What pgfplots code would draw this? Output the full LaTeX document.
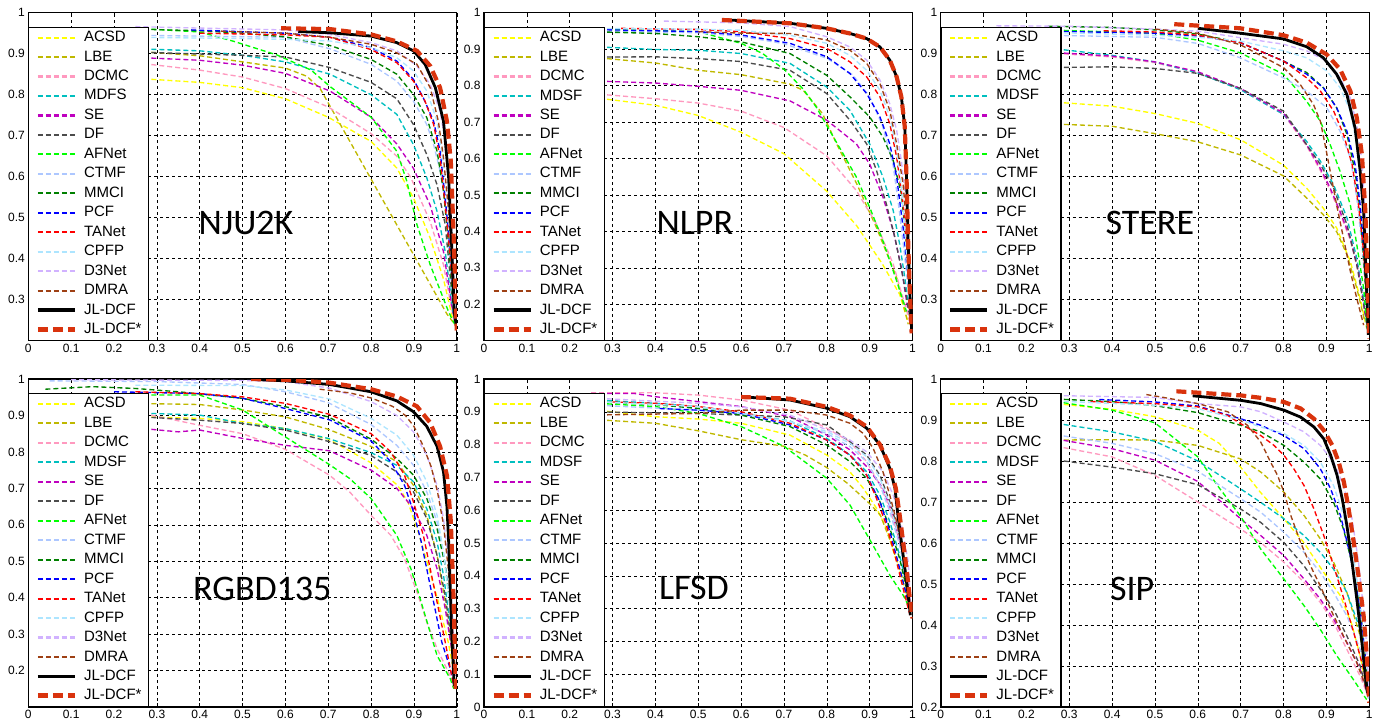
\documentclass[border=0pt]{standalone}
\usepackage{pgfplots}
\pgfplotsset{compat=1.18}
\usepackage{fontspec}
\setmainfont{Liberation Sans}
\newfontfamily\calibri{Carlito}
\definecolor{cACSD}{rgb}{1,1,0}
\definecolor{cLBE}{rgb}{0.75,0.72,0}
\definecolor{cDCMC}{rgb}{1,0.6,0.75}
\definecolor{cMDSF}{rgb}{0,0.75,0.75}
\definecolor{cSE}{rgb}{0.75,0,0.75}
\definecolor{cDF}{rgb}{0.3,0.3,0.3}
\definecolor{cAFNet}{rgb}{0,1,0}
\definecolor{cCTMF}{rgb}{0.68,0.78,1}
\definecolor{cMMCI}{rgb}{0,0.5,0}
\definecolor{cPCF}{rgb}{0,0,1}
\definecolor{cTANet}{rgb}{1,0,0}
\definecolor{cCPFP}{rgb}{0.68,0.9,1}
\definecolor{cD3Net}{rgb}{0.82,0.7,1}
\definecolor{cDMRA}{rgb}{0.62,0.25,0.08}
\definecolor{cJLs}{rgb}{0.85,0.2,0.05}
\tikzset{
  dsh/.style={line width=1.35pt, dash pattern=on 5pt off 3pt},
  sACSD/.style={dsh, draw=cACSD},
  sLBE/.style={dsh, draw=cLBE},
  sDCMC/.style={dsh, draw=cDCMC},
  sMDSF/.style={dsh, draw=cMDSF},
  sSE/.style={dsh, draw=cSE},
  sDF/.style={dsh, draw=cDF},
  sAFNet/.style={dsh, draw=cAFNet},
  sCTMF/.style={dsh, draw=cCTMF},
  sMMCI/.style={dsh, draw=cMMCI},
  sPCF/.style={dsh, draw=cPCF},
  sTANet/.style={dsh, draw=cTANet},
  sCPFP/.style={dsh, draw=cCPFP},
  sD3Net/.style={dsh, draw=cD3Net},
  sDMRA/.style={dsh, draw=cDMRA},
  sJL/.style={draw=black, line width=2.8pt, solid},
  sJLs/.style={draw=cJLs, line width=4.2pt, dash pattern=on 10pt off 5pt},
  bigl/.style={font=\calibri\fontsize{36}{36}\selectfont, inner sep=0pt, anchor=center},
}
\pgfplotsset{
  panel/.style={
    scale only axis, width=428.5pt, height=328pt,
    xmin=0, xmax=1, ymax=1,
    xtick={0,0.1,0.2,0.3,0.4,0.5,0.6,0.7,0.8,0.9,1},
    grid=major, grid style={black, line width=0.55pt, dash pattern=on 3pt off 3pt},
    axis line style={black, line width=1.2pt},
    tick style={black, line width=0.6pt}, major tick length=4pt, tick align=inside,
    /pgf/number format/assume math mode=true,
    ticklabel style={font=\fontsize{12}{12}\selectfont},
    legend cell align=left,
    legend style={at={(0,0)}, anchor=south west, draw=black, line width=1.1pt, fill=white,
      inner xsep=7pt, inner ysep=3.5pt, font=\fontsize{15}{15}\selectfont,
      row sep=5.47pt, nodes={inner sep=0pt, text height=11pt, text depth=3pt},
      /tikz/every odd column/.append style={column sep=7pt}},
    legend image code/.code={\draw[##1] (0pt,-0.4pt) -- (37pt,-0.4pt);\draw[##1] (0pt,0.4pt) -- (37pt,0.4pt);},
  },
}
\begin{document}
\begin{tikzpicture}
\path[use as bounding box] (0,0) rectangle (1380pt,721pt);
% ---------------- NJU2K
\begin{axis}[panel, at={(28.3pt,708.3pt)}, anchor=north west, ymin=0.2, ytick={0.3,0.4,0.5,0.6,0.7,0.8,0.9,1}]
\addplot[sACSD] coordinates {(0.25,0.84)(0.4,0.83)(0.5,0.817)(0.6,0.79)(0.7,0.745)(0.8,0.686)(0.86,0.621)(0.899,0.548)(0.938,0.45)(0.969,0.35)(0.992,0.246)};
\addplot[sLBE] coordinates {(0.25,0.906)(0.4,0.895)(0.5,0.88)(0.6,0.865)(0.65,0.845)(0.681,0.815)(0.8,0.594)(0.9,0.408)(0.977,0.265)(0.995,0.24)};
\addplot[sDCMC] coordinates {(0.25,0.878)(0.4,0.86)(0.5,0.843)(0.6,0.815)(0.7,0.77)(0.8,0.705)(0.86,0.65)(0.893,0.597)(0.938,0.49)(0.969,0.385)(0.993,0.25)};
\addplot[sMDSF] coordinates {(0.25,0.912)(0.4,0.907)(0.5,0.896)(0.6,0.88)(0.704,0.85)(0.8,0.8)(0.86,0.752)(0.899,0.678)(0.93,0.597)(0.954,0.515)(0.973,0.417)(0.991,0.27)(0.997,0.24)};
\addplot[sSE] coordinates {(0.25,0.891)(0.4,0.884)(0.5,0.872)(0.6,0.852)(0.704,0.809)(0.8,0.745)(0.86,0.68)(0.899,0.62)(0.938,0.53)(0.969,0.417)(0.988,0.287)(0.997,0.24)};
\addplot[sDF] coordinates {(0.25,0.904)(0.5,0.896)(0.6,0.892)(0.704,0.866)(0.8,0.83)(0.86,0.79)(0.899,0.727)(0.93,0.654)(0.954,0.58)(0.973,0.483)(0.991,0.287)(0.997,0.24)};
\addplot[sAFNet] coordinates {(0.25,0.962)(0.4,0.953)(0.48,0.93)(0.58,0.897)(0.66,0.86)(0.704,0.82)(0.8,0.745)(0.86,0.662)(0.883,0.59)(0.907,0.483)(0.938,0.385)(0.981,0.27)(0.995,0.24)};
\addplot[sCTMF] coordinates {(0.25,0.945)(0.6,0.94)(0.704,0.912)(0.8,0.874)(0.86,0.833)(0.899,0.784)(0.93,0.727)(0.946,0.678)(0.965,0.597)(0.977,0.5)(0.99,0.3)(0.997,0.24)};
\addplot[sMMCI] coordinates {(0.25,0.96)(0.4,0.956)(0.5,0.95)(0.6,0.941)(0.704,0.92)(0.8,0.886)(0.86,0.85)(0.899,0.8)(0.93,0.744)(0.954,0.662)(0.969,0.564)(0.981,0.434)(0.993,0.27)(0.997,0.24)};
\addplot[sPCF] coordinates {(0.38,0.958)(0.6,0.95)(0.704,0.94)(0.8,0.915)(0.86,0.882)(0.899,0.837)(0.922,0.792)(0.946,0.735)(0.961,0.662)(0.973,0.548)(0.985,0.417)(0.995,0.27)};
\addplot[sTANet] coordinates {(0.4,0.95)(0.6,0.946)(0.704,0.94)(0.8,0.91)(0.86,0.878)(0.899,0.833)(0.926,0.784)(0.946,0.727)(0.961,0.646)(0.973,0.53)(0.985,0.4)(0.995,0.27)};
\addplot[sCPFP] coordinates {(0.25,0.94)(0.5,0.937)(0.6,0.935)(0.704,0.931)(0.8,0.915)(0.86,0.89)(0.899,0.858)(0.93,0.809)(0.954,0.735)(0.969,0.63)(0.981,0.515)(0.99,0.35)(0.997,0.25)};
\addplot[sD3Net] coordinates {(0.25,0.966)(0.6,0.958)(0.704,0.947)(0.8,0.927)(0.86,0.907)(0.907,0.87)(0.938,0.825)(0.961,0.76)(0.977,0.662)(0.986,0.515)(0.993,0.35)(0.998,0.25)};
\addplot[sDMRA] coordinates {(0.45,0.955)(0.6,0.95)(0.704,0.94)(0.8,0.923)(0.86,0.902)(0.907,0.874)(0.938,0.817)(0.957,0.735)(0.969,0.646)(0.981,0.515)(0.99,0.35)(0.997,0.25)};
\addplot[sJL] coordinates {(0.63,0.954)(0.704,0.951)(0.8,0.943)(0.86,0.927)(0.899,0.907)(0.926,0.874)(0.95,0.817)(0.969,0.735)(0.981,0.597)(0.988,0.434)(0.994,0.27)(1.0,0.23)};
\addplot[sJLs] coordinates {(0.59,0.962)(0.704,0.96)(0.8,0.947)(0.86,0.93)(0.907,0.907)(0.938,0.87)(0.961,0.817)(0.977,0.735)(0.986,0.638)(0.992,0.475)(0.998,0.27)(1.0,0.225)};
\node[bigl] at (axis cs:0.508,0.488) {NJU2K};
\legend{ACSD,LBE,DCMC,MDFS,SE,DF,AFNet,CTMF,MMCI,PCF,TANet,CPFP,D3Net,DMRA,JL-DCF,JL-DCF*}
\end{axis}
% ---------------- NLPR
\begin{axis}[panel, at={(484pt,708.3pt)}, anchor=north west, ymin=0.1, ytick={0.2,0.3,0.4,0.5,0.6,0.7,0.8,0.9,1}]
\addplot[sACSD] coordinates {(0.25,0.768)(0.4,0.746)(0.5,0.718)(0.6,0.672)(0.7,0.613)(0.8,0.51)(0.87,0.415)(0.93,0.31)(0.97,0.227)(0.99,0.15)};
\addplot[sLBE] coordinates {(0.25,0.878)(0.4,0.862)(0.5,0.842)(0.6,0.83)(0.714,0.804)(0.745,0.787)(0.79,0.723)(0.823,0.64)(0.87,0.53)(0.916,0.41)(0.963,0.273)(0.99,0.145)};
\addplot[sDCMC] coordinates {(0.25,0.778)(0.4,0.764)(0.5,0.752)(0.6,0.73)(0.7,0.685)(0.8,0.607)(0.869,0.512)(0.916,0.42)(0.955,0.31)(0.982,0.2)(0.994,0.15)};
\addplot[sMDSF] coordinates {(0.25,0.907)(0.4,0.899)(0.5,0.897)(0.6,0.888)(0.714,0.861)(0.8,0.796)(0.854,0.732)(0.9,0.64)(0.931,0.549)(0.955,0.457)(0.97,0.365)(0.982,0.273)(0.992,0.18)};
\addplot[sSE] coordinates {(0.25,0.813)(0.4,0.807)(0.5,0.798)(0.6,0.787)(0.714,0.758)(0.8,0.705)(0.869,0.64)(0.9,0.585)(0.931,0.494)(0.955,0.402)(0.974,0.3)(0.99,0.18)};
\addplot[sDF] coordinates {(0.25,0.878)(0.4,0.879)(0.5,0.874)(0.6,0.866)(0.714,0.842)(0.8,0.778)(0.854,0.705)(0.893,0.64)(0.916,0.567)(0.939,0.475)(0.959,0.383)(0.978,0.273)(0.994,0.163)};
\addplot[sAFNet] coordinates {(0.25,0.955)(0.5,0.948)(0.6,0.916)(0.65,0.888)(0.7,0.845)(0.745,0.79)(0.776,0.74)(0.8,0.69)(0.838,0.613)(0.869,0.549)(0.9,0.466)(0.931,0.374)(0.963,0.264)(0.986,0.18)};
\addplot[sCTMF] coordinates {(0.25,0.95)(0.5,0.945)(0.6,0.935)(0.7,0.915)(0.8,0.875)(0.86,0.83)(0.9,0.77)(0.93,0.69)(0.955,0.58)(0.97,0.45)(0.985,0.3)(0.995,0.17)};
\addplot[sMMCI] coordinates {(0.25,0.948)(0.4,0.943)(0.5,0.934)(0.6,0.92)(0.714,0.888)(0.8,0.828)(0.854,0.769)(0.9,0.714)(0.931,0.659)(0.955,0.594)(0.974,0.503)(0.986,0.365)(0.994,0.227)};
\addplot[sPCF] coordinates {(0.25,0.954)(0.5,0.948)(0.6,0.939)(0.714,0.916)(0.8,0.879)(0.854,0.833)(0.893,0.778)(0.924,0.714)(0.947,0.64)(0.963,0.549)(0.978,0.411)(0.99,0.273)(0.995,0.155)};
\addplot[sTANet] coordinates {(0.32,0.957)(0.5,0.954)(0.6,0.948)(0.714,0.929)(0.8,0.902)(0.854,0.865)(0.893,0.824)(0.924,0.769)(0.947,0.695)(0.963,0.604)(0.978,0.475)(0.99,0.32)(0.996,0.16)};
\addplot[sCPFP] coordinates {(0.25,0.957)(0.5,0.955)(0.6,0.952)(0.714,0.938)(0.8,0.916)(0.854,0.883)(0.893,0.842)(0.924,0.787)(0.947,0.714)(0.963,0.622)(0.974,0.52)(0.982,0.41)(0.995,0.18)};
\addplot[sD3Net] coordinates {(0.42,0.977)(0.6,0.972)(0.714,0.962)(0.8,0.934)(0.854,0.906)(0.893,0.87)(0.924,0.815)(0.947,0.75)(0.963,0.677)(0.974,0.594)(0.986,0.457)(0.996,0.2)};
\addplot[sDMRA] coordinates {(0.5,0.948)(0.6,0.944)(0.714,0.943)(0.8,0.925)(0.854,0.897)(0.893,0.861)(0.924,0.805)(0.947,0.732)(0.963,0.64)(0.978,0.53)(0.986,0.42)(0.996,0.18)};
\addplot[sJL] coordinates {(0.57,0.98)(0.714,0.971)(0.8,0.957)(0.854,0.943)(0.893,0.929)(0.924,0.906)(0.947,0.87)(0.963,0.824)(0.974,0.769)(0.982,0.686)(0.986,0.549)(0.99,0.365)(0.994,0.227)(0.998,0.127)};
\addplot[sJLs] coordinates {(0.555,0.98)(0.714,0.971)(0.8,0.957)(0.854,0.943)(0.893,0.929)(0.924,0.906)(0.947,0.87)(0.963,0.824)(0.974,0.769)(0.982,0.686)(0.986,0.549)(0.99,0.365)(0.994,0.227)(0.998,0.12)};
\node[bigl] at (axis cs:0.492,0.424) {NLPR};
\legend{ACSD,LBE,DCMC,MDSF,SE,DF,AFNet,CTMF,MMCI,PCF,TANet,CPFP,D3Net,DMRA,JL-DCF,JL-DCF*}
\end{axis}
% ---------------- STERE
\begin{axis}[panel, at={(940.7pt,708.3pt)}, anchor=north west, ymin=0.2, ytick={0.3,0.4,0.5,0.6,0.7,0.8,0.9,1}]
\addplot[sACSD] coordinates {(0.25,0.783)(0.4,0.772)(0.5,0.754)(0.6,0.73)(0.7,0.69)(0.8,0.628)(0.854,0.572)(0.893,0.523)(0.924,0.475)(0.956,0.393)(0.979,0.303)(0.994,0.23)};
\addplot[sLBE] coordinates {(0.25,0.729)(0.4,0.723)(0.5,0.705)(0.6,0.685)(0.7,0.653)(0.8,0.602)(0.854,0.548)(0.893,0.507)(0.924,0.466)(0.948,0.41)(0.971,0.328)(0.99,0.246)};
\addplot[sDCMC] coordinates {(0.25,0.902)(0.4,0.892)(0.5,0.878)(0.6,0.853)(0.7,0.813)(0.8,0.752)(0.854,0.675)(0.886,0.615)(0.909,0.567)(0.932,0.51)(0.956,0.445)(0.975,0.365)(0.99,0.27)(0.997,0.23)};
\addplot[sMDSF] coordinates {(0.25,0.914)(0.4,0.896)(0.5,0.88)(0.6,0.853)(0.7,0.812)(0.8,0.752)(0.854,0.686)(0.886,0.638)(0.917,0.58)(0.948,0.5)(0.971,0.401)(0.987,0.303)(0.995,0.23)};
\addplot[sSE] coordinates {(0.25,0.904)(0.4,0.894)(0.5,0.88)(0.6,0.856)(0.7,0.815)(0.8,0.755)(0.854,0.678)(0.886,0.62)(0.909,0.572)(0.932,0.515)(0.956,0.45)(0.975,0.369)(0.99,0.27)(0.997,0.23)};
\addplot[sDF] coordinates {(0.25,0.866)(0.4,0.868)(0.5,0.864)(0.6,0.852)(0.7,0.815)(0.8,0.76)(0.854,0.678)(0.886,0.63)(0.917,0.572)(0.948,0.483)(0.971,0.385)(0.99,0.27)(0.997,0.23)};
\addplot[sAFNet] coordinates {(0.25,0.958)(0.5,0.95)(0.6,0.933)(0.699,0.902)(0.8,0.85)(0.854,0.784)(0.886,0.735)(0.909,0.678)(0.932,0.613)(0.956,0.531)(0.971,0.434)(0.987,0.328)(0.995,0.238)};
\addplot[sCTMF] coordinates {(0.25,0.945)(0.5,0.94)(0.6,0.925)(0.699,0.89)(0.8,0.841)(0.854,0.809)(0.901,0.768)(0.932,0.711)(0.956,0.646)(0.971,0.548)(0.983,0.434)(0.993,0.31)(0.998,0.23)};
\addplot[sMMCI] coordinates {(0.25,0.967)(0.4,0.964)(0.5,0.958)(0.6,0.948)(0.699,0.927)(0.8,0.882)(0.854,0.854)(0.893,0.817)(0.924,0.768)(0.948,0.703)(0.967,0.613)(0.979,0.515)(0.99,0.352)(0.998,0.23)};
\addplot[sPCF] coordinates {(0.25,0.955)(0.5,0.95)(0.6,0.943)(0.699,0.927)(0.8,0.882)(0.854,0.85)(0.893,0.817)(0.924,0.768)(0.948,0.711)(0.967,0.63)(0.979,0.531)(0.988,0.417)(0.994,0.31)(0.998,0.23)};
\addplot[sTANet] coordinates {(0.38,0.956)(0.5,0.953)(0.6,0.945)(0.699,0.927)(0.8,0.882)(0.854,0.841)(0.886,0.809)(0.917,0.76)(0.94,0.703)(0.96,0.63)(0.975,0.531)(0.987,0.417)(0.994,0.3)(0.998,0.23)};
\addplot[sCPFP] coordinates {(0.25,0.952)(0.5,0.945)(0.6,0.94)(0.699,0.931)(0.8,0.907)(0.854,0.89)(0.901,0.858)(0.932,0.817)(0.956,0.76)(0.971,0.678)(0.983,0.556)(0.993,0.393)(0.998,0.25)};
\addplot[sD3Net] coordinates {(0.13,0.968)(0.3,0.967)(0.5,0.96)(0.6,0.955)(0.699,0.939)(0.8,0.923)(0.854,0.907)(0.901,0.882)(0.932,0.841)(0.956,0.792)(0.971,0.727)(0.983,0.638)(0.99,0.515)(0.996,0.352)(0.999,0.25)};
\addplot[sDMRA] coordinates {(0.5,0.96)(0.6,0.95)(0.699,0.922)(0.8,0.866)(0.839,0.825)(0.87,0.776)(0.886,0.735)(0.897,0.678)(0.909,0.613)(0.924,0.531)(0.94,0.45)(0.956,0.369)(0.971,0.303)(0.987,0.238)};
\addplot[sJL] coordinates {(0.6,0.962)(0.699,0.95)(0.8,0.936)(0.854,0.917)(0.893,0.89)(0.924,0.85)(0.948,0.8)(0.967,0.719)(0.979,0.613)(0.987,0.515)(0.993,0.352)(0.998,0.214)};
\addplot[sJLs] coordinates {(0.545,0.972)(0.699,0.962)(0.8,0.945)(0.854,0.927)(0.901,0.898)(0.932,0.862)(0.956,0.809)(0.971,0.744)(0.983,0.654)(0.991,0.515)(0.996,0.352)(1.0,0.205)};
\node[bigl] at (axis cs:0.488,0.488) {STERE};
\legend{ACSD,LBE,DCMC,MDSF,SE,DF,AFNet,CTMF,MMCI,PCF,TANet,CPFP,D3Net,DMRA,JL-DCF,JL-DCF*}
\end{axis}
% ---------------- RGBD135
\begin{axis}[panel, at={(28.3pt,342pt)}, anchor=north west, ymin=0.1, ytick={0.2,0.3,0.4,0.5,0.6,0.7,0.8,0.9,1}]
\addplot[sACSD] coordinates {(0.25,0.897)(0.4,0.892)(0.5,0.883)(0.6,0.864)(0.7,0.835)(0.8,0.77)(0.862,0.708)(0.886,0.662)(0.91,0.58)(0.933,0.488)(0.957,0.388)(0.98,0.278)(0.995,0.186)};
\addplot[sLBE] coordinates {(0.25,0.933)(0.4,0.93)(0.5,0.915)(0.6,0.896)(0.7,0.862)(0.8,0.815)(0.86,0.773)(0.899,0.708)(0.93,0.626)(0.954,0.516)(0.973,0.388)(0.988,0.26)(0.996,0.186)};
\addplot[sDCMC] coordinates {(0.25,0.91)(0.4,0.873)(0.5,0.85)(0.6,0.807)(0.703,0.736)(0.75,0.69)(0.8,0.626)(0.846,0.571)(0.878,0.507)(0.91,0.406)(0.93,0.333)(0.954,0.26)(0.977,0.204)(0.995,0.16)};
\addplot[sMDSF] coordinates {(0.25,0.907)(0.4,0.901)(0.5,0.878)(0.6,0.864)(0.7,0.837)(0.8,0.798)(0.86,0.763)(0.899,0.718)(0.93,0.644)(0.954,0.553)(0.969,0.461)(0.985,0.324)(0.996,0.204)};
\addplot[sSE] coordinates {(0.25,0.866)(0.35,0.855)(0.4,0.86)(0.5,0.837)(0.6,0.818)(0.703,0.803)(0.8,0.75)(0.86,0.7)(0.899,0.644)(0.93,0.571)(0.954,0.479)(0.973,0.37)(0.988,0.26)(0.996,0.186)};
\addplot[sDF] coordinates {(0.25,0.897)(0.4,0.887)(0.5,0.878)(0.6,0.86)(0.703,0.828)(0.8,0.79)(0.86,0.745)(0.899,0.69)(0.93,0.617)(0.954,0.516)(0.973,0.406)(0.988,0.278)(0.996,0.186)};
\addplot[sAFNet] coordinates {(0.25,0.956)(0.4,0.956)(0.5,0.915)(0.6,0.841)(0.703,0.765)(0.75,0.727)(0.8,0.672)(0.86,0.571)(0.893,0.479)(0.91,0.415)(0.933,0.324)(0.954,0.241)(0.985,0.177)(0.993,0.15)};
\addplot[sCTMF] coordinates {(0.05,0.995)(0.3,0.993)(0.5,0.985)(0.6,0.965)(0.7,0.935)(0.8,0.875)(0.86,0.818)(0.899,0.763)(0.93,0.69)(0.954,0.608)(0.973,0.498)(0.985,0.37)(0.996,0.232)};
\addplot[sMMCI] coordinates {(0.04,0.972)(0.15,0.979)(0.25,0.974)(0.35,0.965)(0.5,0.947)(0.6,0.924)(0.7,0.896)(0.8,0.835)(0.86,0.782)(0.899,0.736)(0.93,0.672)(0.954,0.589)(0.973,0.488)(0.985,0.37)(0.996,0.232)};
\addplot[sPCF] coordinates {(0.2,0.965)(0.4,0.96)(0.5,0.947)(0.6,0.919)(0.703,0.888)(0.8,0.83)(0.846,0.773)(0.878,0.708)(0.899,0.635)(0.917,0.553)(0.933,0.461)(0.949,0.37)(0.965,0.278)(0.985,0.204)(0.993,0.16)};
\addplot[sTANet] coordinates {(0.25,0.965)(0.4,0.96)(0.5,0.951)(0.6,0.933)(0.703,0.903)(0.8,0.85)(0.846,0.8)(0.878,0.736)(0.899,0.662)(0.922,0.571)(0.938,0.479)(0.954,0.388)(0.973,0.278)(0.988,0.186)(0.995,0.15)};
\addplot[sCPFP] coordinates {(0.25,0.983)(0.5,0.982)(0.6,0.97)(0.703,0.945)(0.8,0.892)(0.86,0.846)(0.899,0.791)(0.93,0.718)(0.954,0.626)(0.969,0.525)(0.985,0.37)(0.996,0.2)};
\addplot[sD3Net] coordinates {(0.1,0.998)(0.5,0.996)(0.6,0.993)(0.703,0.975)(0.8,0.938)(0.86,0.9)(0.899,0.855)(0.93,0.791)(0.954,0.708)(0.969,0.617)(0.981,0.498)(0.99,0.351)(0.997,0.2)};
\addplot[sDMRA] coordinates {(0.68,0.972)(0.75,0.962)(0.8,0.948)(0.85,0.925)(0.88,0.9)(0.9,0.87)(0.92,0.82)(0.94,0.76)(0.955,0.69)(0.969,0.6)(0.98,0.48)(0.99,0.32)(0.996,0.2)};
\addplot[sJL] coordinates {(0.52,0.999)(0.6,0.995)(0.703,0.985)(0.8,0.965)(0.86,0.94)(0.899,0.91)(0.93,0.87)(0.954,0.815)(0.969,0.745)(0.977,0.65)(0.981,0.553)(0.985,0.415)(0.989,0.278)(0.994,0.158)};
\addplot[sJLs] coordinates {(0.52,1.0)(0.6,0.998)(0.703,0.99)(0.8,0.972)(0.86,0.952)(0.907,0.925)(0.938,0.88)(0.961,0.815)(0.977,0.735)(0.986,0.61)(0.992,0.415)(0.996,0.232)(0.998,0.15)};
\node[bigl] at (axis cs:0.546,0.425) {RGBD135};
\legend{ACSD,LBE,DCMC,MDSF,SE,DF,AFNet,CTMF,MMCI,PCF,TANet,CPFP,D3Net,DMRA,JL-DCF,JL-DCF*}
\end{axis}
% ---------------- LFSD
\begin{axis}[panel, at={(484pt,342pt)}, anchor=north west, ymin=0, ytick={0,0.1,0.2,0.3,0.4,0.5,0.6,0.7,0.8,0.9,1}]
\addplot[sACSD] coordinates {(0.25,0.907)(0.4,0.885)(0.5,0.878)(0.6,0.865)(0.714,0.829)(0.8,0.768)(0.854,0.717)(0.885,0.667)(0.916,0.606)(0.939,0.545)(0.963,0.443)(0.982,0.362)(0.993,0.3)};
\addplot[sLBE] coordinates {(0.25,0.877)(0.4,0.865)(0.5,0.842)(0.6,0.815)(0.7,0.795)(0.75,0.768)(0.8,0.73)(0.85,0.68)(0.9,0.62)(0.925,0.585)(0.95,0.5)(0.975,0.4)(0.993,0.3)};
\addplot[sDCMC] coordinates {(0.25,0.958)(0.4,0.958)(0.5,0.951)(0.6,0.936)(0.714,0.905)(0.8,0.85)(0.854,0.809)(0.893,0.748)(0.924,0.677)(0.947,0.606)(0.97,0.504)(0.986,0.402)(0.995,0.3)};
\addplot[sMDSF] coordinates {(0.25,0.937)(0.4,0.926)(0.5,0.916)(0.6,0.895)(0.714,0.872)(0.8,0.819)(0.854,0.768)(0.893,0.717)(0.924,0.646)(0.947,0.565)(0.97,0.463)(0.986,0.372)(0.995,0.3)};
\addplot[sSE] coordinates {(0.25,0.956)(0.35,0.956)(0.4,0.946)(0.5,0.931)(0.6,0.916)(0.714,0.885)(0.8,0.829)(0.854,0.784)(0.893,0.733)(0.931,0.667)(0.955,0.585)(0.974,0.484)(0.99,0.372)(0.996,0.3)};
\addplot[sDF] coordinates {(0.25,0.9)(0.5,0.895)(0.6,0.89)(0.7,0.885)(0.8,0.86)(0.854,0.809)(0.893,0.768)(0.924,0.707)(0.947,0.626)(0.97,0.524)(0.986,0.402)(0.995,0.3)};
\addplot[sAFNet] coordinates {(0.25,0.927)(0.4,0.916)(0.5,0.895)(0.6,0.855)(0.7,0.795)(0.8,0.697)(0.854,0.616)(0.885,0.545)(0.916,0.474)(0.947,0.402)(0.978,0.341)(0.994,0.3)};
\addplot[sCTMF] coordinates {(0.25,0.921)(0.5,0.905)(0.6,0.895)(0.714,0.87)(0.8,0.834)(0.854,0.794)(0.893,0.748)(0.924,0.677)(0.947,0.596)(0.97,0.494)(0.986,0.392)(0.995,0.3)};
\addplot[sMMCI] coordinates {(0.25,0.932)(0.4,0.922)(0.5,0.91)(0.6,0.89)(0.714,0.855)(0.8,0.799)(0.854,0.748)(0.893,0.697)(0.924,0.626)(0.947,0.545)(0.97,0.453)(0.986,0.362)(0.995,0.3)};
\addplot[sPCF] coordinates {(0.41,0.91)(0.5,0.905)(0.6,0.895)(0.714,0.86)(0.8,0.814)(0.854,0.768)(0.893,0.707)(0.924,0.626)(0.947,0.535)(0.966,0.443)(0.986,0.341)(0.995,0.3)};
\addplot[sTANet] coordinates {(0.3,0.93)(0.4,0.926)(0.5,0.916)(0.6,0.9)(0.714,0.865)(0.8,0.814)(0.854,0.768)(0.893,0.707)(0.916,0.636)(0.939,0.555)(0.959,0.463)(0.978,0.362)(0.994,0.28)};
\addplot[sCPFP] coordinates {(0.25,0.932)(0.5,0.916)(0.6,0.895)(0.714,0.87)(0.8,0.84)(0.854,0.804)(0.893,0.763)(0.924,0.697)(0.947,0.616)(0.97,0.514)(0.986,0.402)(0.995,0.3)};
\addplot[sD3Net] coordinates {(0.25,0.942)(0.5,0.926)(0.6,0.915)(0.714,0.89)(0.8,0.845)(0.854,0.814)(0.893,0.778)(0.931,0.717)(0.955,0.646)(0.974,0.555)(0.99,0.443)(0.996,0.3)};
\addplot[sDMRA] coordinates {(0.25,0.89)(0.4,0.893)(0.5,0.895)(0.6,0.905)(0.714,0.905)(0.8,0.89)(0.854,0.865)(0.885,0.834)(0.908,0.789)(0.931,0.717)(0.947,0.646)(0.963,0.565)(0.978,0.463)(0.99,0.362)(0.996,0.3)};
\addplot[sJL] coordinates {(0.62,0.944)(0.714,0.936)(0.8,0.911)(0.854,0.885)(0.893,0.85)(0.924,0.799)(0.947,0.728)(0.959,0.667)(0.966,0.585)(0.974,0.504)(0.982,0.423)(0.99,0.341)(0.995,0.28)};
\addplot[sJLs] coordinates {(0.6,0.945)(0.714,0.94)(0.8,0.915)(0.854,0.889)(0.893,0.855)(0.924,0.8)(0.947,0.735)(0.961,0.667)(0.97,0.585)(0.978,0.504)(0.986,0.423)(0.993,0.341)(1.0,0.27)};
\node[bigl] at (axis cs:0.49,0.363) {LFSD};
\legend{ACSD,LBE,DCMC,MDSF,SE,DF,AFNet,CTMF,MMCI,PCF,TANet,CPFP,D3Net,DMRA,JL-DCF,JL-DCF*}
\end{axis}
% ---------------- SIP
\begin{axis}[panel, at={(940.7pt,342pt)}, anchor=north west, ymin=0.2, ytick={0.2,0.3,0.4,0.5,0.6,0.7,0.8,0.9,1}]
\addplot[sACSD] coordinates {(0.25,0.942)(0.4,0.926)(0.5,0.908)(0.6,0.875)(0.65,0.843)(0.7,0.785)(0.745,0.725)(0.8,0.66)(0.846,0.603)(0.894,0.528)(0.933,0.471)(0.96,0.4)(0.98,0.32)(0.998,0.22)};
\addplot[sLBE] coordinates {(0.25,0.851)(0.4,0.852)(0.5,0.851)(0.6,0.838)(0.7,0.805)(0.747,0.773)(0.801,0.724)(0.848,0.667)(0.886,0.61)(0.917,0.553)(0.948,0.479)(0.979,0.373)(0.998,0.243)};
\addplot[sDCMC] coordinates {(0.25,0.84)(0.4,0.81)(0.5,0.765)(0.6,0.7)(0.7,0.634)(0.747,0.601)(0.801,0.553)(0.848,0.504)(0.886,0.455)(0.917,0.406)(0.948,0.34)(0.979,0.275)(1.0,0.22)};
\addplot[sMDSF] coordinates {(0.25,0.895)(0.4,0.871)(0.5,0.848)(0.6,0.8)(0.7,0.732)(0.747,0.699)(0.801,0.659)(0.848,0.618)(0.886,0.577)(0.917,0.536)(0.948,0.479)(0.979,0.389)(0.998,0.251)};
\addplot[sSE] coordinates {(0.25,0.857)(0.4,0.83)(0.5,0.802)(0.6,0.75)(0.7,0.659)(0.747,0.618)(0.801,0.569)(0.848,0.512)(0.886,0.463)(0.917,0.414)(0.948,0.357)(0.979,0.292)(0.999,0.22)};
\addplot[sDF] coordinates {(0.25,0.805)(0.4,0.785)(0.5,0.769)(0.6,0.742)(0.7,0.683)(0.747,0.65)(0.801,0.601)(0.848,0.544)(0.886,0.487)(0.917,0.438)(0.948,0.373)(0.979,0.3)(0.999,0.22)};
\addplot[sAFNet] coordinates {(0.25,0.948)(0.4,0.924)(0.5,0.893)(0.6,0.81)(0.646,0.74)(0.7,0.665)(0.747,0.585)(0.801,0.512)(0.848,0.447)(0.886,0.389)(0.925,0.324)(0.963,0.267)(0.994,0.218)};
\addplot[sCTMF] coordinates {(0.25,0.867)(0.4,0.843)(0.5,0.818)(0.6,0.775)(0.7,0.708)(0.747,0.675)(0.801,0.626)(0.848,0.577)(0.886,0.528)(0.917,0.479)(0.948,0.422)(0.979,0.34)(0.999,0.22)};
\addplot[sMMCI] coordinates {(0.25,0.952)(0.4,0.945)(0.5,0.935)(0.6,0.918)(0.7,0.887)(0.747,0.871)(0.801,0.838)(0.848,0.797)(0.886,0.756)(0.917,0.699)(0.94,0.634)(0.963,0.536)(0.979,0.438)(0.994,0.292)(0.999,0.23)};
\addplot[sPCF] coordinates {(0.37,0.95)(0.5,0.944)(0.6,0.934)(0.7,0.903)(0.747,0.887)(0.801,0.862)(0.848,0.83)(0.886,0.781)(0.91,0.732)(0.933,0.667)(0.956,0.569)(0.979,0.438)(0.994,0.292)};
\addplot[sTANet] coordinates {(0.35,0.945)(0.5,0.94)(0.6,0.932)(0.67,0.911)(0.7,0.891)(0.747,0.862)(0.778,0.838)(0.801,0.814)(0.824,0.781)(0.848,0.74)(0.871,0.683)(0.894,0.618)(0.917,0.544)(0.941,0.463)(0.964,0.381)(0.987,0.292)(0.999,0.23)};
\addplot[sCPFP] coordinates {(0.25,0.947)(0.5,0.936)(0.6,0.928)(0.7,0.9)(0.747,0.883)(0.801,0.867)(0.848,0.838)(0.886,0.797)(0.917,0.74)(0.94,0.667)(0.963,0.569)(0.979,0.455)(0.994,0.292)};
\addplot[sD3Net] coordinates {(0.25,0.96)(0.5,0.955)(0.6,0.94)(0.7,0.932)(0.747,0.92)(0.801,0.895)(0.848,0.871)(0.886,0.838)(0.917,0.797)(0.94,0.74)(0.96,0.659)(0.975,0.553)(0.991,0.398)(0.999,0.25)};
\addplot[sDMRA] coordinates {(0.48,0.962)(0.515,0.956)(0.6,0.94)(0.67,0.92)(0.716,0.887)(0.747,0.846)(0.77,0.797)(0.786,0.765)(0.801,0.724)(0.817,0.667)(0.84,0.601)(0.863,0.544)(0.886,0.495)(0.91,0.438)(0.94,0.373)(0.971,0.308)(0.994,0.243)};
\addplot[sJL] coordinates {(0.588,0.959)(0.7,0.948)(0.747,0.94)(0.801,0.924)(0.84,0.907)(0.871,0.883)(0.894,0.854)(0.91,0.814)(0.925,0.765)(0.937,0.708)(0.948,0.642)(0.96,0.553)(0.972,0.455)(0.983,0.357)(0.991,0.275)(0.996,0.234)};
\addplot[sJLs] coordinates {(0.55,0.97)(0.7,0.96)(0.747,0.954)(0.801,0.944)(0.84,0.928)(0.871,0.903)(0.894,0.875)(0.914,0.838)(0.929,0.797)(0.941,0.748)(0.952,0.683)(0.964,0.601)(0.975,0.52)(0.987,0.422)(0.995,0.316)(1.0,0.21)};
\node[bigl] at (axis cs:0.447,0.489) {SIP};
\legend{ACSD,LBE,DCMC,MDSF,SE,DF,AFNet,CTMF,MMCI,PCF,TANet,CPFP,D3Net,DMRA,JL-DCF,JL-DCF*}
\end{axis}
\end{tikzpicture}
\end{document}
